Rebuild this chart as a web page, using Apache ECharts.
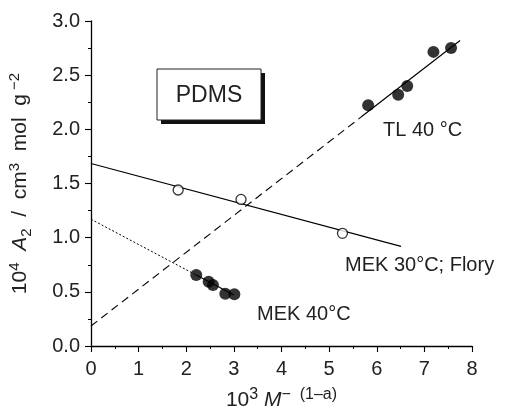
<!DOCTYPE html>
<html>
<head>
<meta charset="utf-8">
<title>PDMS A2</title>
<script src="https://cdn.jsdelivr.net/npm/echarts@6/dist/echarts.min.js"></script>
<style>
  html,body{margin:0;padding:0;background:#fff;}
  #chart{width:507px;height:408px;}
</style>
</head>
<body>
<div id="chart"></div>
<script>
// MEK 30°C; Flory (open circles) and its fit line
var mek30Pts = [[1.83, 1.44], [3.15, 1.353], [5.28, 1.04]];
var mek30Fit = [[0, 1.685], [6.51, 0.92]];
// TL 40°C (filled circles), dashed extrapolation + solid fit
var tlPts = [[5.82, 2.223], [6.45, 2.32], [6.64, 2.40], [7.19, 2.715], [7.56, 2.75]];
var tlDash = [[0, 0.185], [5.67, 2.113]];
var tlFit = [[5.67, 2.113], [7.75, 2.82]];
// MEK 40°C (filled circles), dotted extrapolation + solid fit
var mek40Pts = [[2.21, 0.655], [2.47, 0.593], [2.56, 0.563], [2.82, 0.483], [3.01, 0.477]];
var mek40Dot = [[0, 1.17], [2.2, 0.657]];
var mek40Fit = [[2.2, 0.657], [3.0, 0.47]];

var FONT = 'Liberation Sans, Arial, sans-serif';
var chart = echarts.init(document.getElementById('chart'));

function lineSeries(data, type, width) {
  return {
    type: 'line', data: data, symbol: 'none', silent: true, z: 1,
    lineStyle: {color: '#000', width: width || 1.1, type: type}
  };
}
function richSet(base, small) {
  return {
    n: {fontSize: base, fontFamily: FONT, color: '#222', lineHeight: base + 6},
    it: {fontSize: base, fontFamily: FONT, color: '#222', fontStyle: 'italic', lineHeight: base + 6},
    sup: {fontSize: small, fontFamily: FONT, color: '#222', verticalAlign: 'top', lineHeight: base + 6},
    sub: {fontSize: small, fontFamily: FONT, color: '#222', verticalAlign: 'bottom', lineHeight: base + 2}
  };
}

chart.setOption({
  animation: false,
  grid: {left: 91, right: 35, top: 21, bottom: 62, outerBoundsMode: 'none', containLabel: false},
  xAxis: {
    type: 'value', min: 0, max: 8, interval: 1,
    name: '{n|10}{sup|3}{n| }{it|M}{sup|−  (1–a)}',
    nameLocation: 'middle', nameGap: 41,
    nameTextStyle: {rich: richSet(21, 16)},
    axisLine: {lineStyle: {color: '#000', width: 1.3}},
    axisTick: {inside: false, length: 6, lineStyle: {color: '#000', width: 1.1}},
    minorTick: {show: true, splitNumber: 2, length: 3, lineStyle: {color: '#000'}},
    axisLabel: {fontSize: 20, fontFamily: FONT, color: '#222', margin: 13},
    splitLine: {show: false}
  },
  yAxis: {
    type: 'value', min: 0, max: 3, interval: 0.5,
    name: '{n|10}{sup|4}{n|  }{it|A}{sub|2}{n|  /  cm}{sup|3}{n|  mol  g}{sup| −2}',
    nameLocation: 'middle', nameGap: 57, nameRotate: 90,
    nameTextStyle: {rich: richSet(21, 15)},
    axisLine: {lineStyle: {color: '#000', width: 1.3}},
    axisTick: {inside: false, length: 6, lineStyle: {color: '#000', width: 1.1}},
    minorTick: {show: true, splitNumber: 2, length: 3, lineStyle: {color: '#000'}},
    axisLabel: {fontSize: 20, fontFamily: FONT, color: '#222', margin: 11,
      formatter: function (v) { return v.toFixed(1); }},
    splitLine: {show: false}
  },
  series: [
    lineSeries(mek30Fit, 'solid', 1.2),
    lineSeries(tlDash, [8, 5], 1.1),
    lineSeries(tlFit, 'solid', 1.2),
    lineSeries(mek40Dot, [2, 2], 1),
    lineSeries(mek40Fit, 'solid', 1.2),
    {type: 'scatter', data: mek30Pts, symbol: 'circle', symbolSize: 10, z: 3,
      itemStyle: {color: '#fff', borderColor: '#000', borderWidth: 1.3}},
    {type: 'scatter', data: tlPts, symbol: 'circle', symbolSize: 12, z: 3,
      itemStyle: {color: '#000'}},
    {type: 'scatter', data: mek40Pts, symbol: 'circle', symbolSize: 12, z: 3,
      itemStyle: {color: '#000'}}
  ],
  graphic: [
    {type: 'rect', shape: {x: 161, y: 73, width: 104, height: 51}, style: {fill: '#111'}, z: 10},
    {type: 'rect', shape: {x: 157, y: 69, width: 104, height: 51},
      style: {fill: '#fff', stroke: '#222', lineWidth: 1}, z: 11},
    {type: 'text', x: 209, y: 96, z: 12,
      style: {text: 'PDMS', font: '23px ' + FONT, fill: '#222', align: 'center', verticalAlign: 'middle'}},
    {type: 'text', x: 383, y: 130, z: 12,
      style: {text: 'TL 40 °C', font: '20px ' + FONT, fill: '#222', align: 'left', verticalAlign: 'middle'}},
    {type: 'text', x: 345, y: 265, z: 12,
      style: {text: 'MEK 30°C; Flory', font: '20px ' + FONT, fill: '#222', align: 'left', verticalAlign: 'middle'}},
    {type: 'text', x: 257, y: 314, z: 12,
      style: {text: 'MEK 40°C', font: '20px ' + FONT, fill: '#222', align: 'left', verticalAlign: 'middle'}}
  ]
});
</script>
</body>
</html>
